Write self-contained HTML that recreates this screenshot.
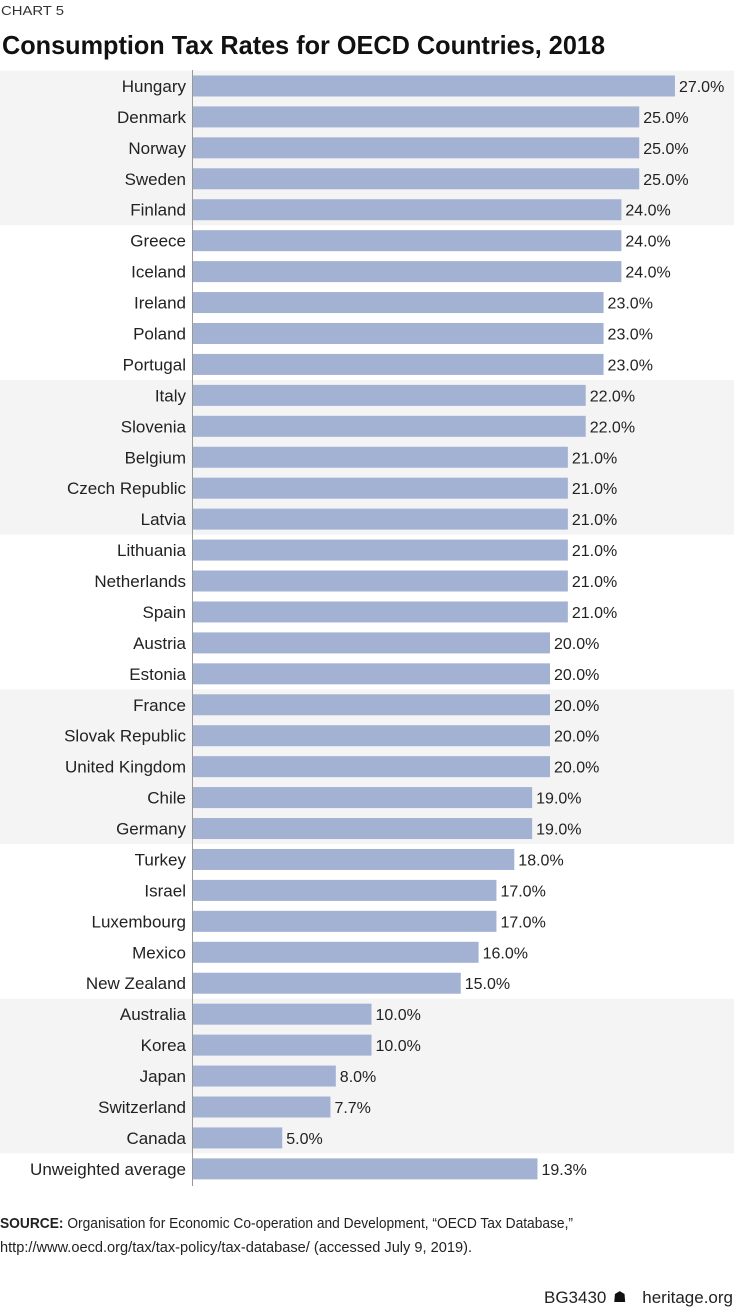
<!DOCTYPE html>
<html><head><meta charset="utf-8"><style>
body{margin:0;background:#fff;}
svg{display:block;font-family:"Liberation Sans",sans-serif;}
</style></head><body>
<svg id="chart" width="734" height="1307" xmlns="http://www.w3.org/2000/svg">
<text x="1" y="15" font-size="13" fill="#333" textLength="63" lengthAdjust="spacingAndGlyphs">CHART 5</text>
<text x="2" y="54" font-size="26" font-weight="bold" fill="#111" textLength="603" lengthAdjust="spacingAndGlyphs">Consumption Tax Rates for OECD Countries, 2018</text>
<g id="bands"></g>
<g id="bars"></g>
<line x1="192.5" y1="70" x2="192.5" y2="1186" stroke="#999" stroke-width="1"/>
<text x="0" y="1228" font-size="15" fill="#222" textLength="573" lengthAdjust="spacingAndGlyphs"><tspan font-weight="bold">SOURCE:</tspan> Organisation for Economic Co-operation and Development, “OECD Tax Database,”</text>
<text x="0" y="1252" font-size="15" fill="#222" textLength="472" lengthAdjust="spacingAndGlyphs">http://www.oecd.org/tax/tax-policy/tax-database/ (accessed July 9, 2019).</text>
<text x="544" y="1303" font-size="17" fill="#222">BG3430</text>
<text x="613" y="1302" font-size="15" fill="#111">☗</text>
<text x="733" y="1303" font-size="17" fill="#222" text-anchor="end">heritage.org</text>
</svg>
<script>
const countries=["Hungary","Denmark","Norway","Sweden","Finland","Greece","Iceland","Ireland","Poland","Portugal","Italy","Slovenia","Belgium","Czech Republic","Latvia","Lithuania","Netherlands","Spain","Austria","Estonia","France","Slovak Republic","United Kingdom","Chile","Germany","Turkey","Israel","Luxembourg","Mexico","New Zealand","Australia","Korea","Japan","Switzerland","Canada","Unweighted average"];
const rates=[27,25,25,25,24,24,24,23,23,23,22,22,21,21,21,21,21,21,20,20,20,20,20,19,19,18,17,17,16,15,10,10,8,7.7,5,19.3];
const NS="http://www.w3.org/2000/svg";
const x0=193,pxPer=17.85,top0=70.5,step=30.94,bh=21;
const xs=v=>v*pxPer;
const ys=i=>top0+i*step;
const bands=document.getElementById('bands'),bars=document.getElementById('bars');
for(let b=0;b<7;b++){
  if(b%2)continue;
  const r=document.createElementNS(NS,'rect');
  
  
  r.setAttribute('x',0);r.setAttribute('y',ys(b*5));r.setAttribute('width',734);r.setAttribute('height',step*5);
  r.setAttribute('fill','#f4f4f4');bands.appendChild(r);
}
countries.forEach((c,i)=>{
  const cy=ys(i)+step/2;
  const t=document.createElementNS(NS,'text');
  
  
  t.setAttribute('x',186);t.setAttribute('y',cy+6);t.setAttribute('text-anchor','end');
  t.setAttribute('font-size','17');t.setAttribute('fill','#222');t.textContent=c;bars.appendChild(t);
  const r=document.createElementNS(NS,'rect');
  
  
  r.setAttribute('x',x0);r.setAttribute('y',cy-bh/2);r.setAttribute('width',xs(rates[i]));r.setAttribute('height',bh);
  r.setAttribute('fill','#a3b1d3');bars.appendChild(r);
  const v=document.createElementNS(NS,'text');
  
  
  v.setAttribute('x',x0+xs(rates[i])+4);v.setAttribute('y',cy+6);
  v.setAttribute('font-size','16');v.setAttribute('fill','#222');v.textContent=rates[i].toFixed(1)+'%';bars.appendChild(v);
});
</script>
</body></html>
